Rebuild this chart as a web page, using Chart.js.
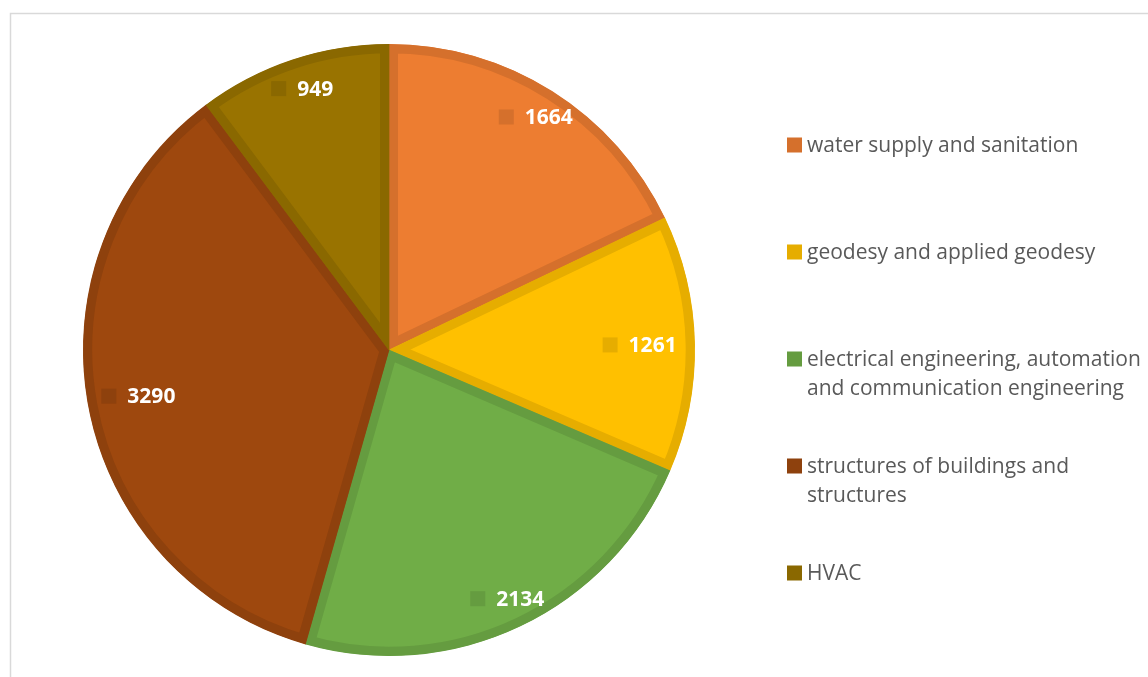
<!DOCTYPE html>
<html>
<head>
  <title>Graduates by field of study</title>
  <script src="https://cdn.jsdelivr.net/npm/chart.js"></script>
  <style>
    body {
      margin: 0;
      background: #fff;
    }
    #wrap {
      width: 1148px;
      height: 677px;
      position: relative;
    }
  </style>
</head>
<body>
  <div id="wrap"><canvas id="pieChart" width="1148" height="677"></canvas></div>

  <script>
    // chart data
    const categories = [
      ['water supply and sanitation'],
      ['geodesy and applied geodesy'],
      ['electrical engineering, automation', 'and communication engineering'],
      ['structures of buildings and', 'structures'],
      ['HVAC']
    ];
    const values = [1664, 1261, 2134, 3290, 949];
    const fillColors = ['#ED7D31', '#FFC000', '#70AD47', '#9E480E', '#997300'];
    const edgeColors = ['#D5702C', '#E6AD00', '#659C40', '#8E410D', '#8A6800'];

    // light grey chart frame (only top and left edges are visible)
    const framePlugin = {
      id: 'frame',
      beforeDraw(chart) {
        const ctx = chart.ctx;
        ctx.save();
        ctx.strokeStyle = '#D9D9D9';
        ctx.lineWidth = 1.5;
        ctx.beginPath();
        ctx.moveTo(10.5, chart.height + 5);
        ctx.lineTo(10.5, 13.5);
        ctx.lineTo(chart.width + 5, 13.5);
        ctx.stroke();
        ctx.restore();
      }
    };

    // value labels inside the slices, with a small square marker
    const valueLabels = {
      id: 'valueLabels',
      afterDatasetsDraw(chart) {
        const ctx = chart.ctx;
        const meta = chart.getDatasetMeta(0);
        ctx.save();
        ctx.font = 'bold 21px "Open Sans", sans-serif';
        ctx.textBaseline = 'middle';
        meta.data.forEach((arc, i) => {
          const p = arc.getProps(['x', 'y', 'startAngle', 'endAngle', 'outerRadius'], true);
          const mid = (p.startAngle + p.endAngle) / 2;
          const d = p.outerRadius * 0.9;
          let cx = p.x + Math.cos(mid) * d;
          let cy = p.y + Math.sin(mid) * d;
          const text = String(chart.data.datasets[0].data[i]);
          const tw = ctx.measureText(text).width;
          const halfW = (15 + 11 + tw) / 2;
          const limit = p.outerRadius * 0.94;
          if (Math.abs(cx - p.x) + halfW > limit) {
            const nx = limit - halfW;
            const k = nx / Math.abs(cx - p.x);
            cx = p.x + Math.sign(cx - p.x) * nx;
            cy = p.y + (cy - p.y) * k;
          }
          const left = cx - halfW;
          ctx.fillStyle = edgeColors[i];
          ctx.fillRect(left, cy - 7.5, 15, 15);
          ctx.fillStyle = '#FFFFFF';
          ctx.fillText(text, left + 26, cy + 1);
        });
        ctx.restore();
      }
    };

    // legend on the right, first lines evenly spaced
    const sideLegend = {
      id: 'sideLegend',
      afterDraw(chart) {
        const ctx = chart.ctx;
        ctx.save();
        ctx.font = '21px "Open Sans", sans-serif';
        ctx.textBaseline = 'middle';
        chart.data.labels.forEach((lines, i) => {
          const y = 145 + i * 107;
          ctx.fillStyle = edgeColors[i];
          ctx.fillRect(787, y - 7.5, 15, 15);
          ctx.fillStyle = '#595959';
          lines.forEach((line, j) => {
            ctx.fillText(line, 807, y + j * 29 + 1);
          });
        });
        ctx.restore();
      }
    };

    const ctx = document.getElementById('pieChart').getContext('2d');
    const chart = new Chart(ctx, {
      type: 'pie',
      data: {
        labels: categories,
        datasets: [{
          data: values,
          backgroundColor: fillColors,
          borderColor: edgeColors,
          borderWidth: 9,
          borderAlign: 'inner',
          borderJoinStyle: 'miter',
          hoverOffset: 0
        }]
      },
      options: {
        responsive: false,
        devicePixelRatio: 1,
        animation: false,
        events: [],
        layout: {
          padding: { top: 44, bottom: 21, left: 83, right: 453 }
        },
        plugins: {
          legend: { display: false },
          tooltip: { enabled: false }
        }
      },
      plugins: [framePlugin, valueLabels, sideLegend]
    });
  </script>
</body>
</html>
